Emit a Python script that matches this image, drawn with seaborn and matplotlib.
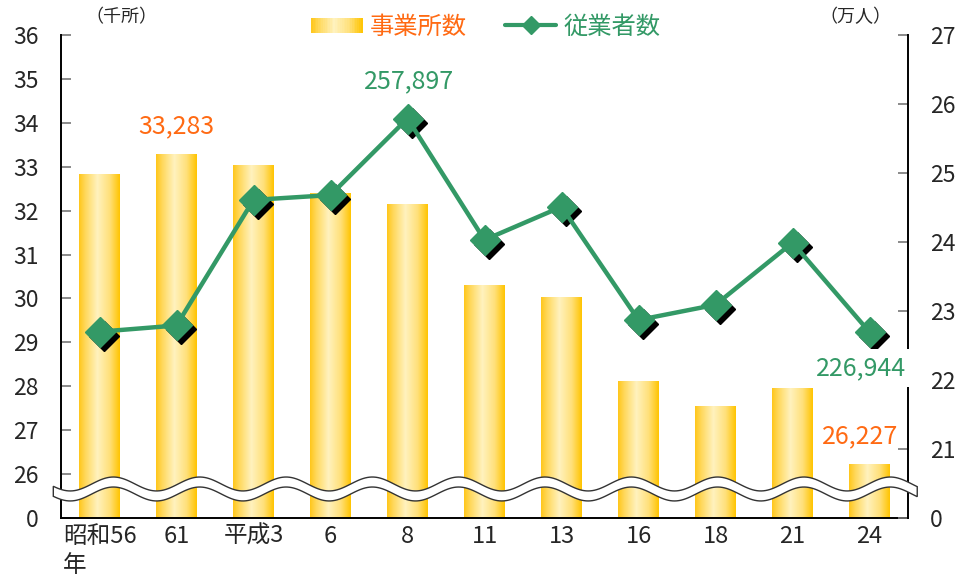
import numpy as np
import matplotlib
matplotlib.use("Agg")
import matplotlib.pyplot as plt
import matplotlib.transforms as mtransforms
from matplotlib.colors import LinearSegmentedColormap
from matplotlib.patches import Rectangle, Polygon
from matplotlib.lines import Line2D
from matplotlib.legend_handler import HandlerBase
from matplotlib.ticker import FixedLocator
import seaborn as sns

# データ
years = ["昭和56\n年", "61", "平成3", "6", "8", "11", "13", "16", "18", "21", "24"]
establishments = [32.82, 33.283, 33.02, 32.40, 32.14, 30.30, 30.02, 28.11, 27.55, 27.95, 26.227]  # 千所
workers = [22.70, 22.79, 24.61, 24.68, 25.7897, 24.03, 24.51, 22.87, 23.09, 23.99, 22.6944]  # 万人

left_ticks = list(range(25, 37))
left_labels = ["0"] + [str(v) for v in range(26, 37)]
right_ticks = list(range(20, 28))
right_labels = ["0"] + [str(v) for v in range(21, 28)]

ORANGE = "#FF6A13"
GREEN = "#339966"
gold = LinearSegmentedColormap.from_list(
    "gold", [(0, "#FFC61A"), (0.15, "#FFD85A"), (0.45, "#FFF2BE"), (0.75, "#FFE07A"), (1, "#FFC400")])

sns.set_style("white")
plt.rcParams['font.family'] = ['Noto Sans CJK JP', 'DejaVu Sans']

fig = plt.figure(figsize=(9.73, 5.86), dpi=100)
ax1 = fig.add_axes([61 / 973, 1 - 518 / 586, (908 - 61) / 973, (518 - 35) / 586])
pos = np.arange(len(years))

# 棒グラフ（事業所数）-> グラデーションに置き換え
sns.barplot(x=pos, y=establishments, ax=ax1, width=0.52, color="#FFD34D", native_scale=True)
grad = np.linspace(0, 1, 256).reshape(1, -1)
for p in ax1.patches:
    x0, y0, w, h = p.get_x(), p.get_y(), p.get_width(), p.get_height()
    ax1.imshow(grad, extent=[x0, x0 + w, y0, y0 + h], aspect="auto", cmap=gold, zorder=2)
    p.set_visible(False)

ax1.set_xlim(-0.5, len(years) - 0.5)
ax1.set_ylim(25, 36)
ax1.set_yticks(left_ticks)
ax1.set_yticklabels(left_labels)
ax1.set_xticks(pos)
ax1.set_xticklabels(years, multialignment="left", linespacing=1.35)
ax1.xaxis.set_minor_locator(FixedLocator(pos[:-1] + 0.5))
ax1.tick_params(axis="y", direction="in", length=7, width=1.2, color="#777777",
                labelsize=16.5, pad=16)
ax1.tick_params(axis="x", which="major", length=0, labelsize=17, pad=5)
ax1.tick_params(axis="x", which="minor", direction="in", length=6, width=1.2, color="#999999")
for s in ["top", "right"]:
    ax1.spines[s].set_visible(False)
for s in ["left", "bottom"]:
    ax1.spines[s].set_color("black")
    ax1.spines[s].set_linewidth(1.4)
ax1.set_xlabel("")
ax1.set_ylabel("")

# 折れ線（従業者数）
ax2 = ax1.twinx()
sns.lineplot(x=pos, y=workers, ax=ax2, color=GREEN, lw=3.2, zorder=3)
shadow = mtransforms.offset_copy(ax2.transData, fig=fig, x=4, y=-4, units="dots")
ax2.plot(pos, workers, ls="none", marker="D", ms=15, color="black", transform=shadow, zorder=2)
ax2.plot(pos, workers, ls="none", marker="D", ms=15, color=GREEN, zorder=4)
ax2.set_ylim(20, 27)
ax2.set_yticks(right_ticks)
ax2.set_yticklabels(right_labels)
ax2.tick_params(axis="y", direction="in", length=7, width=1.2, color="#777777",
                labelsize=16.5, pad=16)
for s in ["top", "left", "bottom"]:
    ax2.spines[s].set_visible(False)
ax2.spines["right"].set_color("black")
ax2.spines["right"].set_linewidth(1.4)
ax2.set_ylabel("")

# 波線（省略記号）
xs = np.linspace(-0.6, 10.62, 400)
phase = 2 * np.pi * (xs + 0.38) / 1.121
upper = 20.493 - 0.101 * np.cos(phase)
lower = 20.348 - 0.101 * np.cos(phase)
verts = np.vstack([np.column_stack([xs, upper]), np.column_stack([xs[::-1], lower[::-1]])])
ax2.add_patch(Polygon(verts, closed=True, facecolor="white", edgecolor="#333333",
                      lw=1.0, clip_on=False, zorder=10))
ax2.set_xlim(-0.5, len(years) - 0.5)

# データラベル
ax1.annotate(f"{establishments[1] * 1000:,.0f}", (pos[1], establishments[1]), xytext=(0, 20),
             textcoords="offset points", ha="center", va="center", color=ORANGE, fontsize=18)
ax1.annotate(f"{establishments[-1] * 1000:,.0f}", (pos[-1], establishments[-1]), xytext=(-7, 20),
             textcoords="offset points", ha="center", va="center", color=ORANGE, fontsize=18)
ax2.annotate(f"{workers[4] * 10000:,.0f}", (pos[4], workers[4]), xytext=(1, 27),
             textcoords="offset points", ha="center", va="center", color=GREEN, fontsize=18, zorder=5)
ax2.annotate(f"{workers[-1] * 10000:,.0f}", (pos[-1], workers[-1]), xytext=(-6, -26),
             textcoords="offset points", ha="center", va="center", color=GREEN, fontsize=18, zorder=5,
             bbox=dict(boxstyle="square,pad=0.25", fc="white", ec="none"))

# 単位
fig.text(121 / 973, 1 - 17 / 586, "（千所）", ha="center", va="center", fontsize=13)
fig.text(855 / 973, 1 - 17 / 586, "（万人）", ha="center", va="center", fontsize=13)


# 凡例
class GradHandler(HandlerBase):
    def create_artists(self, legend, orig_handle, xdescent, ydescent, width, height, fontsize, trans):
        n = 30
        h = height * 0.9
        y = -ydescent + (height - h) / 2
        return [Rectangle((-xdescent + width * i / n, y), width / n + 0.3, h,
                          facecolor=gold((i + 0.5) / n), edgecolor="none", transform=trans)
                for i in range(n)]


bar_handle = Rectangle((0, 0), 1, 1)
line_handle = Line2D([], [], color=GREEN, lw=3, marker="D", ms=9)
leg = fig.legend([bar_handle, line_handle], ["事業所数", "従業者数"], loc="center",
                 bbox_to_anchor=(486 / 973, 1 - 27 / 586), ncol=2, frameon=False, fontsize=17.5,
                 handlelength=2.1, handletextpad=0.3, columnspacing=1.6,
                 handler_map={bar_handle: GradHandler()})
leg.get_texts()[0].set_color(ORANGE)
leg.get_texts()[1].set_color(GREEN)

fig.savefig("out.png", dpi=100)
